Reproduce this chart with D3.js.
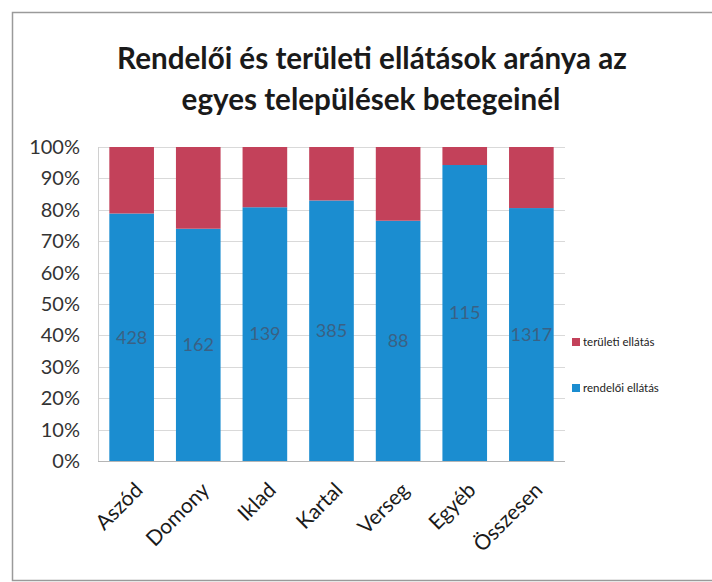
<!DOCTYPE html>
<html>
<head>
<meta charset="utf-8">
<script src="https://cdn.jsdelivr.net/npm/d3@7/dist/d3.min.js"></script>
<style>
  body { margin: 0; background: #fff; }
  svg { display: block; font-family: Lato, "Open Sans", sans-serif; }
</style>
</head>
<body>
<svg id="chart" width="712" height="582"></svg>
<script>
'use strict';

// telepulesek
const categories = ['Aszód', 'Domony', 'Iklad', 'Kartal', 'Verseg', 'Egyéb', 'Összesen'];
// betegszam, rendeloi ellatas (cimkek is ezek)
const rendeloi = [428, 162, 139, 385, 88, 115, 1317];
// betegszam, teruleti ellatas (a kepbol becsulve)
const teruleti = [115, 57, 33, 79, 27, 7, 318];
const yTicks = [0, 0.1, 0.2, 0.3, 0.4, 0.5, 0.6, 0.7, 0.8, 0.9, 1];
const seriesNames = ['rendelői ellátás', 'területi ellátás'];

const colors = {'rendelői ellátás': '#1b8dd0', 'területi ellátás': '#c3415a'};

const svg = d3.select('#chart');

// keret
svg.append('rect')
    .attr('x', 12.5).attr('y', 12.5)
    .attr('width', 720).attr('height', 568)
    .attr('fill', 'none')
    .attr('stroke', '#9a9a9a')
    .attr('stroke-width', 1.5);

// cim
let title = svg.append('g')
    .attr('font-weight', 'bold')
    .attr('fill', '#1a1a1a')
    .attr('text-anchor', 'middle');
let t1 = title.append('text').attr('x', 372).attr('y', 69)
    .attr('font-size', 28)
    .text('Rendelői és területi ellátások aránya az');
let t2 = title.append('text').attr('x', 371).attr('y', 110)
    .attr('font-size', 28)
    .text('egyes települések betegeinél');
let fs = 28 * 510 / t1.node().getComputedTextLength();
t1.attr('font-size', fs);
t2.attr('font-size', fs);

const plot = {left: 98, right: 565, top: 147, bottom: 461};

let x = d3.scaleBand()
    .domain(categories)
    .range([plot.left, plot.right])
    .paddingInner(0.33)
    .paddingOuter(0.17);

let y = d3.scaleLinear()
    .domain([0, 1])
    .range([plot.bottom, plot.top]);

// racsvonalak
svg.append('g')
    .selectAll('line')
    .data(yTicks)
    .enter().append('line')
    .attr('x1', plot.left).attr('x2', plot.right)
    .attr('y1', function(d) { return Math.round(y(d)) + 0.5; })
    .attr('y2', function(d) { return Math.round(y(d)) + 0.5; })
    .attr('stroke', function(d) { return d === 0 ? '#b5b5b5' : '#d9d9d9'; })
    .attr('stroke-width', 1);

svg.append('line')
    .attr('x1', plot.left + 0.5).attr('x2', plot.left + 0.5)
    .attr('y1', plot.top).attr('y2', plot.bottom)
    .attr('stroke', '#d0d0d0');

// y tengely
let yAxis = svg.append('g')
    .attr('transform', 'translate(' + (plot.left - 18) + ',0)')
    .call(d3.axisLeft(y).tickValues(yTicks).tickFormat(d3.format('.0%'))
        .tickSize(0).tickPadding(0));
yAxis.select('.domain').remove();
yAxis.selectAll('text')
    .attr('font-size', 20)
    .attr('fill', '#333')
    .attr('font-family', 'Lato, sans-serif');

// halmozott adatok
let rows = categories.map(function(c, i) {
    return {cat: c, 'rendelői ellátás': rendeloi[i], 'területi ellátás': teruleti[i]};
});
let stack = d3.stack()
    .keys(seriesNames)
    .offset(d3.stackOffsetExpand);
let layers = stack(rows);

svg.append('g')
    .selectAll('g')
    .data(layers)
    .enter().append('g')
    .attr('fill', function(d) { return colors[d.key]; })
    .selectAll('rect')
    .data(function(d) { return d; })
    .enter().append('rect')
    .attr('x', function(d) { return x(d.data.cat); })
    .attr('width', x.bandwidth())
    .attr('y', function(d) { return y(d[1]); })
    .attr('height', function(d) { return y(d[0]) - y(d[1]); });

// adatcimkek
svg.append('g')
    .selectAll('text')
    .data(layers[0])
    .enter().append('text')
    .attr('x', function(d) { return x(d.data.cat) + x.bandwidth() / 2; })
    .attr('y', function(d) { return (y(d[0]) + y(d[1])) / 2; })
    .attr('dy', '0.35em')
    .attr('text-anchor', 'middle')
    .attr('font-size', 18)
    .attr('fill', '#3a6184')
    .text(function(d, i) { return rendeloi[i]; });

// x tengely cimkek
svg.append('g')
    .selectAll('text')
    .data(categories)
    .enter().append('text')
    .attr('transform', function(d) {
        return 'translate(' + (x(d) + x.bandwidth() / 2 + 2) + ',' + (plot.bottom + 20) + ') rotate(-45)';
    })
    .attr('text-anchor', 'end')
    .attr('dy', '0.7em')
    .attr('font-size', 21)
    .attr('fill', '#1a1a1a')
    .text(function(d) { return d; });

// jelmagyarazat
let legend = svg.append('g')
    .selectAll('g')
    .data(['területi ellátás', 'rendelői ellátás'])
    .enter().append('g')
    .attr('transform', function(d, i) {
        return 'translate(572,' + (342 + i * 46) + ')';
    });
legend.append('rect')
    .attr('x', 0).attr('y', -4)
    .attr('width', 8).attr('height', 8)
    .attr('fill', function(d) { return colors[d]; });
legend.append('text')
    .attr('x', 11).attr('y', 0)
    .attr('dy', '0.35em')
    .attr('font-size', 11.5)
    .attr('fill', '#222')
    .text(function(d) { return d; });
</script>
</body>
</html>
